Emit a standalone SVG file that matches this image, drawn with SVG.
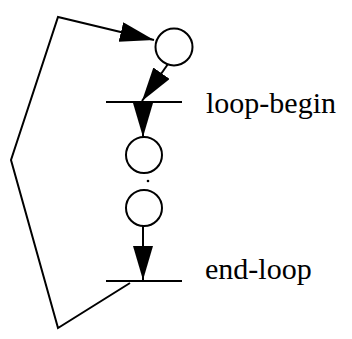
<svg xmlns="http://www.w3.org/2000/svg" width="352" height="339" viewBox="0 0 352 339">
<style>
.p{fill:#fff;stroke:#000;stroke-width:2}
.b{stroke:#000;stroke-width:2.2}
.e{fill:none;stroke:#000;stroke-width:2;stroke-linejoin:miter}
.t{font-family:"Liberation Serif",serif;font-size:30px;fill:#000}
</style>
<defs>
<marker id="ah" markerUnits="userSpaceOnUse" markerWidth="36" markerHeight="22" refX="34" refY="10" orient="auto">
<path d="M0,0 L34,10 L0,20 Z" fill="#000"/>
</marker>
</defs>
<rect width="352" height="339" fill="#fff"/>
<g id="connectors">
<polyline class="e" points="130,283 58,328 11,160 58,17 154,40" marker-end="url(#ah)"/>
<line class="e" x1="168" y1="64" x2="142" y2="101" marker-end="url(#ah)"/>
<line class="e" x1="143" y1="102" x2="143" y2="137" marker-end="url(#ah)"/>
<line class="e" x1="143" y1="226" x2="143" y2="280" marker-end="url(#ah)"/>
</g>
<g id="place1"><circle class="p" cx="174" cy="47" r="18.5"/></g>
<g id="loop-begin"><line class="b" x1="106" y1="102" x2="182" y2="102"/><text class="t" x="206" y="113">loop-begin</text></g>
<g id="place2"><circle class="p" cx="144" cy="155" r="18"/></g>
<g id="dots"><circle cx="148" cy="181" r="1.3" fill="#000"/></g>
<g id="place3"><circle class="p" cx="144" cy="208" r="18"/></g>
<g id="end-loop"><line class="b" x1="106" y1="281" x2="182" y2="281"/><text class="t" x="205" y="279">end-loop</text></g>
</svg>
